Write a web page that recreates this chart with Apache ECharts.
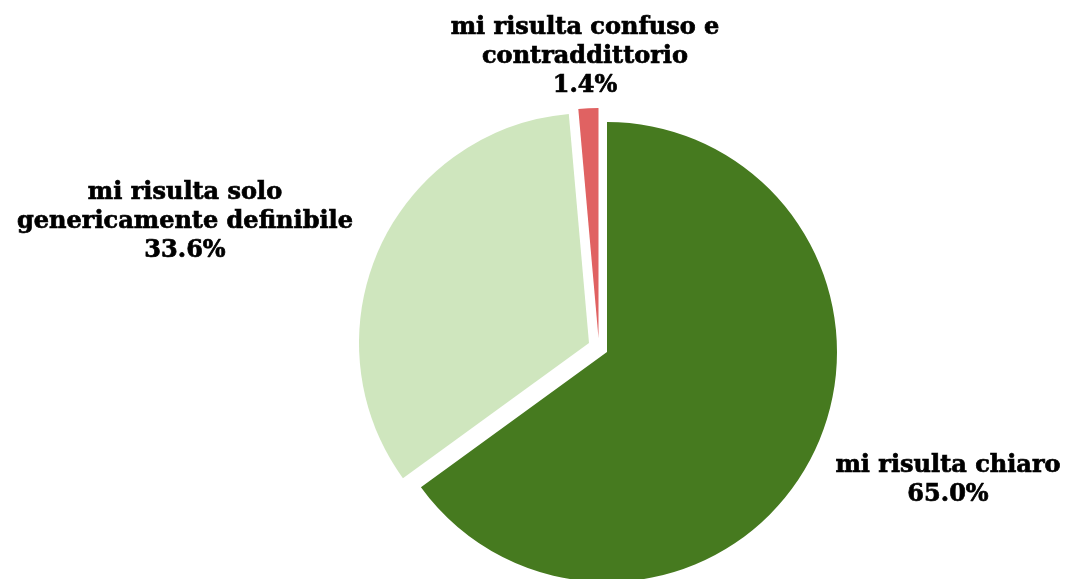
<!DOCTYPE html>
<html>
<head>
<meta charset="utf-8">
<script src="https://cdn.jsdelivr.net/npm/echarts@6/dist/echarts.min.js"></script>
<style>
html,body{margin:0;padding:0;background:#fff;}
#chart{width:1068px;height:579px;}
</style>
</head>
<body>
<div id="chart"></div>
<script>
// ---- data ----
const categories = ['mi risulta chiaro', 'mi risulta solo\ngenericamente definibile', 'mi risulta confuso e\ncontraddittorio'];
const values = [65.0, 33.6, 1.4];
const colors = ['#467A1F', '#CFE6BE', '#E06262'];

// ---- layout (not data) ----
const baseCenter = [607, 352];
const radius = 230;
const sliceOffsets = [[0, 0], [-18, -9], [-8.5, -14]];
const labelPos = [[948, 480], [185, 222], [585, 57]];

const chart = echarts.init(document.getElementById('chart'), null, {renderer: 'canvas'});

const series = values.map(function (_, owner) {
  return {
    type: 'pie',
    center: [baseCenter[0] + sliceOffsets[owner][0], baseCenter[1] + sliceOffsets[owner][1]],
    radius: radius,
    startAngle: 90,
    clockwise: true,
    avoidLabelOverlap: false,
    minAngle: 0,
    silent: true,
    animation: false,
    labelLine: {show: false},
    data: categories.map(function (name, i) {
      const own = i === owner;
      return {
        name: name,
        value: values[i],
        itemStyle: {color: own ? colors[i] : 'rgba(0,0,0,0)', borderWidth: 0},
        label: {
          show: own,
          position: 'outside',
          formatter: function (p) { return p.name + '\n' + p.value.toFixed(1) + '%'; },
          fontFamily: 'DejaVu Serif',
          fontWeight: 'bold',
          fontSize: 24,
          lineHeight: 29,
          color: '#000',
          textBorderColor: '#000',
          textBorderWidth: 0.7,
          align: 'center'
        }
      };
    }),
    labelLayout: function () {
      return {x: labelPos[owner][0], y: labelPos[owner][1], align: 'center', verticalAlign: 'middle'};
    }
  };
});

chart.setOption({
  backgroundColor: '#ffffff',
  animation: false,
  series: series
});
</script>
</body>
</html>
